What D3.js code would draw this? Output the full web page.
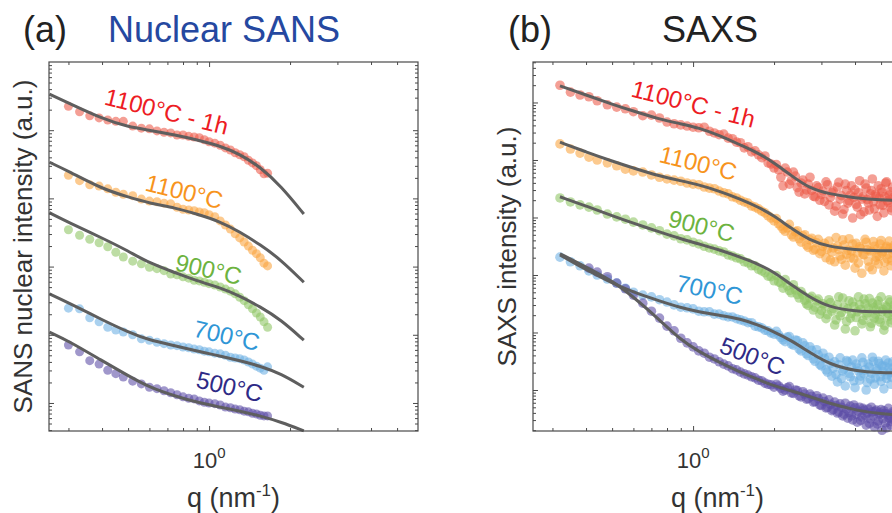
<!DOCTYPE html>
<html>
<head>
<meta charset="utf-8">
<script src="https://cdn.jsdelivr.net/npm/d3@7"></script>
<style>
  body { margin: 0; background: #fff; }
  svg { display: block; font-family: "Liberation Sans", Arial, Helvetica, sans-serif; }
</style>
</head>
<body>
<svg id="chart" width="892" height="513"></svg>
<script>
// series order: 1100°C - 1h, 1100°C, 900°C, 700°C, 500°C
const seriesNames = ['1100°C - 1h', '1100°C', '900°C', '700°C', '500°C'];

// ---- (a) nuclear SANS, q in nm^-1, intensity given as log10(I) ----
const qSans = [0.30, 0.33, 0.36, 0.39, 0.42, 0.45, 0.48, 0.52, 0.56, 0.60, 0.64, 0.68, 0.72, 0.76, 0.80,
  0.84, 0.88, 0.92, 0.96, 1.00, 1.05, 1.10, 1.15, 1.20, 1.25, 1.30, 1.35, 1.40, 1.45, 1.50, 1.55, 1.60, 1.65];
const sans1100h = [5.35, 5.27, 5.21, 5.18, 5.15, 5.13, 5.13, 5.06, 5.03, 5.02, 4.99, 4.97, 4.96, 4.93, 4.93,
  4.91, 4.90, 4.89, 4.86, 4.83, 4.81, 4.78, 4.74, 4.71, 4.67, 4.64, 4.61, 4.56, 4.52, 4.48, 4.42, 4.36, 4.37];
const sans1100 = [4.34, 4.26, 4.20, 4.18, 4.14, 4.09, 4.06, 4.04, 3.99, 3.96, 3.95, 3.93, 3.92, 3.87, 3.84,
  3.83, 3.82, 3.80, 3.79, 3.76, 3.73, 3.67, 3.61, 3.55, 3.48, 3.42, 3.36, 3.30, 3.24, 3.19, 3.13, 3.05, 3.01];
const sans900 = [3.54, 3.46, 3.40, 3.35, 3.29, 3.21, 3.14, 3.08, 3.04, 2.99, 2.97, 2.94, 2.89, 2.88, 2.85,
  2.83, 2.80, 2.79, 2.77, 2.75, 2.73, 2.70, 2.67, 2.64, 2.60, 2.55, 2.50, 2.44, 2.38, 2.32, 2.26, 2.19, 2.11];
const sans700 = [2.39, 2.38, 2.25, 2.19, 2.11, 2.07, 2.04, 2.00, 1.94, 1.92, 1.89, 1.87, 1.85, 1.84, 1.82,
  1.81, 1.79, 1.78, 1.76, 1.75, 1.73, 1.72, 1.70, 1.67, 1.66, 1.65, 1.63, 1.60, 1.57, 1.54, 1.51, 1.48, 1.53];
const sans500 = [1.85, 1.75, 1.62, 1.57, 1.48, 1.43, 1.38, 1.32, 1.28, 1.23, 1.21, 1.18, 1.15, 1.12, 1.09,
  1.07, 1.06, 1.03, 1.01, 1.00, 0.99, 0.97, 0.94, 0.93, 0.91, 0.90, 0.88, 0.87, 0.85, 0.84, 0.82, 0.81, 0.81];

const qSansFit = [0.255, 0.3, 0.4, 0.5, 0.6, 0.75, 0.9, 1.1, 1.3, 1.55, 1.85, 2.25];
const sansFit1100h = [5.53, 5.40, 5.17, 5.05, 5.00, 4.93, 4.86, 4.77, 4.65, 4.46, 4.18, 3.77];
const sansFit1100 = [4.53, 4.40, 4.14, 4.02, 3.93, 3.86, 3.77, 3.66, 3.51, 3.32, 3.10, 2.77];
const sansFit900 = [3.79, 3.65, 3.42, 3.23, 3.05, 2.91, 2.79, 2.69, 2.57, 2.41, 2.22, 1.92];
const sansFit700 = [2.60, 2.47, 2.22, 2.04, 1.92, 1.84, 1.76, 1.69, 1.62, 1.54, 1.43, 1.23];
const sansFit500 = [2.04, 1.91, 1.62, 1.40, 1.23, 1.10, 1.01, 0.94, 0.88, 0.81, 0.72, 0.59];

// ---- (b) SAXS ----
const qSaxs = [0.32, 0.35, 0.38, 0.41, 0.44, 0.48, 0.52, 0.56, 0.60, 0.65, 0.70, 0.75, 0.80, 0.85, 0.90, 0.95, 1.00,
  1.05, 1.10, 1.15, 1.20, 1.25, 1.30, 1.35, 1.40, 1.45, 1.50, 1.55, 1.60, 1.65, 1.70, 1.75, 1.80, 1.85, 1.90, 1.95, 2.00,
  2.04, 2.08, 2.12, 2.16, 2.20, 2.24, 2.28, 2.32, 2.36, 2.40,
  2.44, 2.48, 2.52, 2.56, 2.60, 2.64, 2.68, 2.72, 2.76, 2.80,
  2.84, 2.88, 2.92, 2.96, 3.00, 3.04, 3.08, 3.12, 3.16, 3.20,
  3.24, 3.28, 3.32, 3.36, 3.40, 3.44, 3.48, 3.52, 3.56, 3.60,
  3.64, 3.68, 3.72, 3.76, 3.80, 3.84, 3.88, 3.92, 3.96, 4.00,
  4.04, 4.08, 4.12, 4.16, 4.20, 4.24, 4.28, 4.32, 4.36, 4.40,
  4.44, 4.48, 4.52, 4.56, 4.60, 4.64, 4.68, 4.72, 4.76, 4.80,
  4.84, 4.88, 4.92, 4.96, 5.00, 5.04, 5.08, 5.12, 5.16, 5.20,
  5.24, 5.28, 5.32, 5.36, 5.40, 5.44, 5.48, 5.52, 5.56, 5.60];
const saxs1100h = [6.30, 6.18, 6.13, 6.10, 6.03, 5.96, 5.92, 5.89, 5.84, 5.77, 5.78, 5.73, 5.66, 5.63, 5.61, 5.59, 5.57,
  5.56, 5.57, 5.50, 5.47, 5.44, 5.45, 5.38, 5.37, 5.31, 5.30, 5.21, 5.23, 5.14, 5.16, 5.09, 5.04, 5.07, 4.95, 4.93, 4.86,
  4.92, 4.83, 4.70, 4.55, 4.86, 4.79, 4.58, 4.64, 4.79, 4.72,
  4.52, 4.44, 4.60, 4.65, 4.41, 4.48, 4.58, 4.70, 4.47, 4.37,
  4.36, 4.55, 4.52, 4.30, 4.40, 4.46, 4.28, 4.62, 4.57, 4.22,
  4.35, 4.43, 4.46, 4.11, 4.20, 4.53, 4.61, 4.32, 4.38, 4.06,
  4.14, 4.58, 4.47, 4.25, 4.29, 4.39, 4.55, 3.99, 4.35, 4.48,
  4.23, 4.18, 4.43, 4.64, 4.05, 4.32, 4.36, 4.10, 4.58, 4.51,
  4.31, 4.25, 4.13, 4.41, 4.47, 4.67, 4.27, 4.15, 4.40, 4.37,
  4.02, 4.55, 4.34, 4.22, 4.50, 4.44, 4.21, 4.08, 4.36, 4.60,
  4.62, 4.29, 4.26, 4.39, 4.45, 4.17, 4.12, 4.53, 4.35, 4.32];
const saxs1100 = [5.28, 5.19, 5.12, 5.05, 5.00, 4.95, 4.90, 4.84, 4.81, 4.79, 4.74, 4.70, 4.67, 4.65, 4.63, 4.60, 4.58,
  4.57, 4.53, 4.51, 4.50, 4.46, 4.43, 4.41, 4.36, 4.34, 4.30, 4.27, 4.25, 4.20, 4.18, 4.15, 4.11, 4.08, 4.03, 3.99, 3.94,
  3.98, 3.89, 3.85, 3.80, 3.76, 3.82, 3.88, 3.70, 3.66, 3.75,
  3.77, 3.63, 3.57, 3.68, 3.70, 3.52, 3.48, 3.61, 3.64, 3.43,
  3.45, 3.56, 3.62, 3.37, 3.41, 3.50, 3.55, 3.30, 3.45, 3.59,
  3.26, 3.40, 3.47, 3.23, 3.65, 3.50, 3.44, 3.33, 3.27, 3.61,
  3.52, 3.17, 3.36, 3.43, 3.63, 3.30, 3.42, 3.54, 3.28, 3.12,
  3.55, 3.38, 3.21, 3.49, 3.46, 3.03, 3.36, 3.35, 3.62, 3.57,
  3.44, 3.24, 3.14, 3.43, 3.40, 3.09, 3.58, 3.50, 3.25, 3.31,
  3.45, 3.19, 3.33, 3.54, 3.60, 3.38, 3.41, 3.07, 3.22, 3.47,
  3.50, 3.28, 3.36, 3.59, 3.47, 3.16, 3.25, 3.40, 3.44, 3.52];
const saxs900 = [4.34, 4.27, 4.22, 4.18, 4.13, 4.06, 4.01, 3.97, 3.92, 3.87, 3.82, 3.77, 3.71, 3.68, 3.63, 3.61, 3.57,
  3.54, 3.50, 3.47, 3.45, 3.42, 3.40, 3.35, 3.33, 3.30, 3.28, 3.23, 3.21, 3.16, 3.16, 3.10, 3.07, 3.04, 2.98, 2.97, 2.90,
  2.99, 2.88, 2.86, 2.77, 2.92, 2.81, 2.73, 2.69, 2.83, 2.74,
  2.66, 2.60, 2.71, 2.65, 2.56, 2.50, 2.47, 2.60, 2.63, 2.39,
  2.44, 2.55, 2.58, 2.32, 2.38, 2.50, 2.46, 2.24, 2.31, 2.57,
  2.52, 2.37, 2.42, 2.13, 2.22, 2.48, 2.62, 2.29, 2.35, 2.60,
  2.44, 2.06, 2.19, 2.41, 2.55, 2.25, 2.33, 2.53, 2.45, 2.03,
  2.26, 2.36, 2.62, 2.48, 2.40, 2.15, 2.21, 2.58, 2.50, 2.30,
  2.34, 2.43, 2.59, 2.10, 2.16, 2.51, 2.44, 2.25, 2.31, 2.39,
  2.49, 2.55, 2.23, 2.18, 2.62, 2.36, 2.40, 2.04, 2.12, 2.46,
  2.44, 2.27, 2.33, 2.57, 2.53, 2.17, 2.22, 2.37, 2.41, 2.48];
const saxs700 = [3.31, 3.23, 3.16, 3.07, 3.00, 2.93, 2.86, 2.77, 2.70, 2.65, 2.62, 2.57, 2.53, 2.48, 2.44, 2.43, 2.41,
  2.37, 2.36, 2.36, 2.32, 2.32, 2.29, 2.27, 2.27, 2.24, 2.22, 2.20, 2.17, 2.17, 2.11, 2.10, 2.08, 2.04, 2.03, 1.99, 1.97,
  2.02, 1.96, 1.91, 1.87, 1.84, 1.92, 1.93, 1.80, 1.78, 1.87,
  1.86, 1.71, 1.68, 1.82, 1.77, 1.63, 1.60, 1.75, 1.69, 1.54,
  1.50, 1.70, 1.61, 1.44, 1.42, 1.64, 1.55, 1.35, 1.31, 1.57,
  1.46, 1.24, 1.38, 1.49, 1.27, 1.14, 1.44, 1.56, 1.20, 1.33,
  1.36, 1.07, 1.51, 1.49, 1.29, 1.23, 1.40, 1.52, 1.16, 1.04,
  1.45, 1.38, 1.33, 1.17, 1.24, 1.56, 1.48, 1.28, 1.35, 1.00,
  1.13, 1.45, 1.40, 1.19, 1.29, 1.57, 1.50, 1.10, 1.21, 1.37,
  1.34, 1.50, 1.46, 1.23, 1.15, 1.42, 1.32, 1.02, 1.41, 1.52,
  1.20, 1.26, 1.47, 1.38, 1.31, 1.10, 1.22, 1.49, 1.39, 1.30];
const saxs500 = [null, null, null, 3.12, 3.05, 2.97, 2.86, 2.76, 2.65, 2.51, 2.37, 2.25, 2.11, 2.03, 1.90, 1.82, 1.75,
  1.68, 1.64, 1.57, 1.54, 1.49, 1.45, 1.42, 1.37, 1.35, 1.31, 1.28, 1.26, 1.23, 1.21, 1.17, 1.16, 1.12, 1.10, 1.09, 1.05,
  1.10, 1.07, 1.03, 0.98, 1.00, 1.04, 1.06, 0.95, 0.94, 1.00,
  0.99, 0.90, 0.88, 0.97, 0.93, 0.84, 0.85, 0.93, 0.89, 0.79,
  0.80, 0.90, 0.85, 0.74, 0.73, 0.86, 0.80, 0.69, 0.70, 0.83,
  0.75, 0.64, 0.66, 0.79, 0.73, 0.60, 0.62, 0.76, 0.70, 0.55,
  0.58, 0.77, 0.67, 0.51, 0.61, 0.72, 0.55, 0.48, 0.74, 0.69,
  0.58, 0.44, 0.63, 0.70, 0.47, 0.53, 0.68, 0.65, 0.56, 0.39,
  0.60, 0.67, 0.42, 0.50, 0.70, 0.62, 0.55, 0.36, 0.63, 0.65,
  0.41, 0.46, 0.57, 0.60, 0.66, 0.30, 0.50, 0.64, 0.59, 0.43,
  0.34, 0.58, 0.68, 0.51, 0.55, 0.39, 0.45, 0.62, 0.60, 0.48];

const qSaxsFit = [0.32, 0.4, 0.5, 0.6, 0.75, 0.9, 1.05, 1.25, 1.5, 1.75, 2.0, 2.3, 2.7, 3.2, 4.0, 5.0, 6.0];
const saxsFit1100h = [6.29, 6.13, 5.97, 5.85, 5.71, 5.63, 5.56, 5.43, 5.26, 5.12, 4.95, 4.74, 4.51, 4.41, 4.34, 4.30, 4.30];
const saxsFit1100 = [5.31, 5.14, 4.98, 4.86, 4.72, 4.64, 4.57, 4.46, 4.32, 4.18, 4.03, 3.82, 3.61, 3.49, 3.44, 3.42, 3.42];
const saxsFit900 = [4.36, 4.20, 4.03, 3.90, 3.75, 3.63, 3.54, 3.44, 3.31, 3.19, 3.05, 2.84, 2.62, 2.44, 2.37, 2.36, 2.36];
const saxsFit700 = [3.35, 3.09, 2.86, 2.70, 2.55, 2.43, 2.36, 2.30, 2.24, 2.13, 2.01, 1.87, 1.66, 1.45, 1.33, 1.30, 1.30];
const saxsFit500 = [3.37, 3.14, 2.90, 2.62, 2.22, 1.87, 1.67, 1.48, 1.31, 1.18, 1.07, 0.99, 0.89, 0.77, 0.65, 0.58, 0.57];

// where each curve name sits: q, log10(I) of the text start, and its tilt
const sansLabelQ = [0.404, 0.573, 0.741, 0.865, 0.887];
const sansLabelLogI = [5.38, 4.12, 2.95, 1.98, 1.23];
const sansLabelTilt = [14, 14, 13, 13, 13];
const saxsLabelQ = [0.583, 0.741, 0.80, 0.857, 1.239];
const saxsLabelLogI = [6.11, 4.97, 3.85, 2.72, 1.66];
const saxsLabelTilt = [14.5, 14, 14, 12, 21];

const pointColors = ['#ec5a48', '#f9a43e', '#8ec462', '#6db0e4', '#5b4ba6'];
const labelColors = ['#ed1c24', '#f7941d', '#6db33f', '#2f96d6', '#2e2a86'];

const svg = d3.select('#chart');
const TOP = 62, BOTTOM = 431, SIZE = 369;
const axisColor = '#4a4a4a';

function drawPanel(p) {
    const g = svg.append('g');
    const x = d3.scaleLog().domain([0.254, 5.98]).range([p.left, p.left + SIZE]);
    const y = d3.scaleLog().domain(p.yDomain).range([BOTTOM, TOP]);

    // data points
    p.points.forEach((vals, i) => {
        const rows = p.q.map((q, j) => ({ q: q, v: vals[j] }))
            .filter(d => d.v !== null)
            .map(d => ({ q: d.q, I: Math.pow(10, d.v) }));
        g.append('g').selectAll('circle')
            .data(rows)
            .join('circle')
            .attr('cx', d => x(d.q))
            .attr('cy', d => y(d.I))
            .attr('r', p.r)
            .attr('fill', pointColors[i])
            .attr('fill-opacity', 0.58);
    });

    // fitted curves
    const line = d3.line()
        .x(d => x(d.q))
        .y(d => y(d.I))
        .curve(d3.curveBasis);
    p.fits.forEach(vals => {
        const rows = p.qFit.map((q, j) => ({ q: q, I: Math.pow(10, vals[j]) }));
        g.append('path')
            .datum(rows)
            .attr('d', line)
            .attr('fill', 'none')
            .attr('stroke', '#5e5e5e')
            .attr('stroke-width', 3);
    });

    // curve names
    seriesNames.forEach((name, i) => {
        const lx = x(p.labelQ[i]), ly = y(Math.pow(10, p.labelLogI[i]));
        g.append('text')
            .attr('transform', `translate(${lx},${ly}) rotate(${p.labelTilt[i]})`)
            .attr('font-size', 24)
            .attr('fill', labelColors[i])
            .text(name);
    });

    // frame and ticks (inside, on all four sides)
    g.append('rect')
        .attr('x', p.left).attr('y', TOP)
        .attr('width', SIZE).attr('height', BOTTOM - TOP)
        .attr('fill', 'none')
        .attr('stroke', axisColor)
        .attr('stroke-width', 1.2);

    const isDecade = v => Math.abs(Math.log10(v) - Math.round(Math.log10(v))) < 1e-9;
    const xt = x.ticks();
    const xMajor = xt.filter(isDecade);
    const xMinor = xt.filter(v => !isDecade(v));
    const yt = y.ticks();
    const yMajor = yt.filter(v => isDecade(v) && y(v) > TOP + 1);
    const yMinor = yt.filter(v => !isDecade(v));

    const tickAxis = (axisFn, scale, values, size, tx, ty) => {
        const a = g.append('g')
            .attr('transform', `translate(${tx},${ty})`)
            .call(axisFn(scale).tickValues(values).tickSize(-size).tickFormat(''));
        a.select('.domain').remove();
        a.selectAll('line').attr('stroke', axisColor).attr('stroke-width', 1);
    };
    [[xMajor, 5], [xMinor, 3]].forEach(([vals, s]) => {
        tickAxis(d3.axisBottom, x, vals, s, 0, BOTTOM);
        tickAxis(d3.axisTop, x, vals, s, 0, TOP);
    });
    [[yMajor, 5], [yMinor, 3]].forEach(([vals, s]) => {
        tickAxis(d3.axisLeft, y, vals, s, p.left, 0);
        tickAxis(d3.axisRight, y, vals, s, p.left + SIZE, 0);
    });

    // x tick label 10^0
    const tl = g.append('text')
        .attr('x', x(1)).attr('y', 468)
        .attr('text-anchor', 'middle')
        .attr('font-size', 22)
        .attr('fill', '#333');
    tl.append('tspan').text('10');
    tl.append('tspan').attr('dy', -10).attr('font-size', 15).text('0');

    // axis titles
    const xl = g.append('text')
        .attr('x', p.left + SIZE / 2).attr('y', 507)
        .attr('text-anchor', 'middle')
        .attr('font-size', 27)
        .attr('fill', '#333');
    xl.append('tspan').text('q (nm');
    xl.append('tspan').attr('dy', -11).attr('font-size', 17).text('-1');
    xl.append('tspan').attr('dy', 11).text(')');

    g.append('text')
        .attr('transform', `translate(${p.yLabelX},${(TOP + BOTTOM) / 2}) rotate(-90)`)
        .attr('text-anchor', 'middle')
        .attr('font-size', 26)
        .attr('fill', '#333')
        .text(p.yLabel);

    // panel letter and title
    g.append('text')
        .attr('x', p.letterX).attr('y', 42)
        .attr('font-size', 36).attr('fill', '#222')
        .text(p.letter);
    g.append('text')
        .attr('x', p.titleX).attr('y', 42)
        .attr('font-size', 36).attr('fill', p.titleColor)
        .text(p.title);
}

drawPanel({
    left: 49,
    r: 4.5,
    yDomain: [Math.pow(10, 0.589), 1e6],
    q: qSans,
    points: [sans1100h, sans1100, sans900, sans700, sans500],
    qFit: qSansFit,
    fits: [sansFit1100h, sansFit1100, sansFit900, sansFit700, sansFit500],
    labelQ: sansLabelQ, labelLogI: sansLabelLogI, labelTilt: sansLabelTilt,
    yLabel: 'SANS nuclear intensity (a.u.)',
    yLabelX: 32,
    letter: '(a)', letterX: 23,
    title: 'Nuclear SANS', titleX: 108, titleColor: '#2548a0'
});

drawPanel({
    left: 533,
    r: 4.8,
    yDomain: [Math.pow(10, 0.287), Math.pow(10, 6.704)],
    q: qSaxs,
    points: [saxs1100h, saxs1100, saxs900, saxs700, saxs500],
    qFit: qSaxsFit,
    fits: [saxsFit1100h, saxsFit1100, saxsFit900, saxsFit700, saxsFit500],
    labelQ: saxsLabelQ, labelLogI: saxsLabelLogI, labelTilt: saxsLabelTilt,
    yLabel: 'SAXS intensity (a.u.)',
    yLabelX: 516,
    letter: '(b)', letterX: 508,
    title: 'SAXS', titleX: 662, titleColor: '#222'
});
</script>
</body>
</html>
